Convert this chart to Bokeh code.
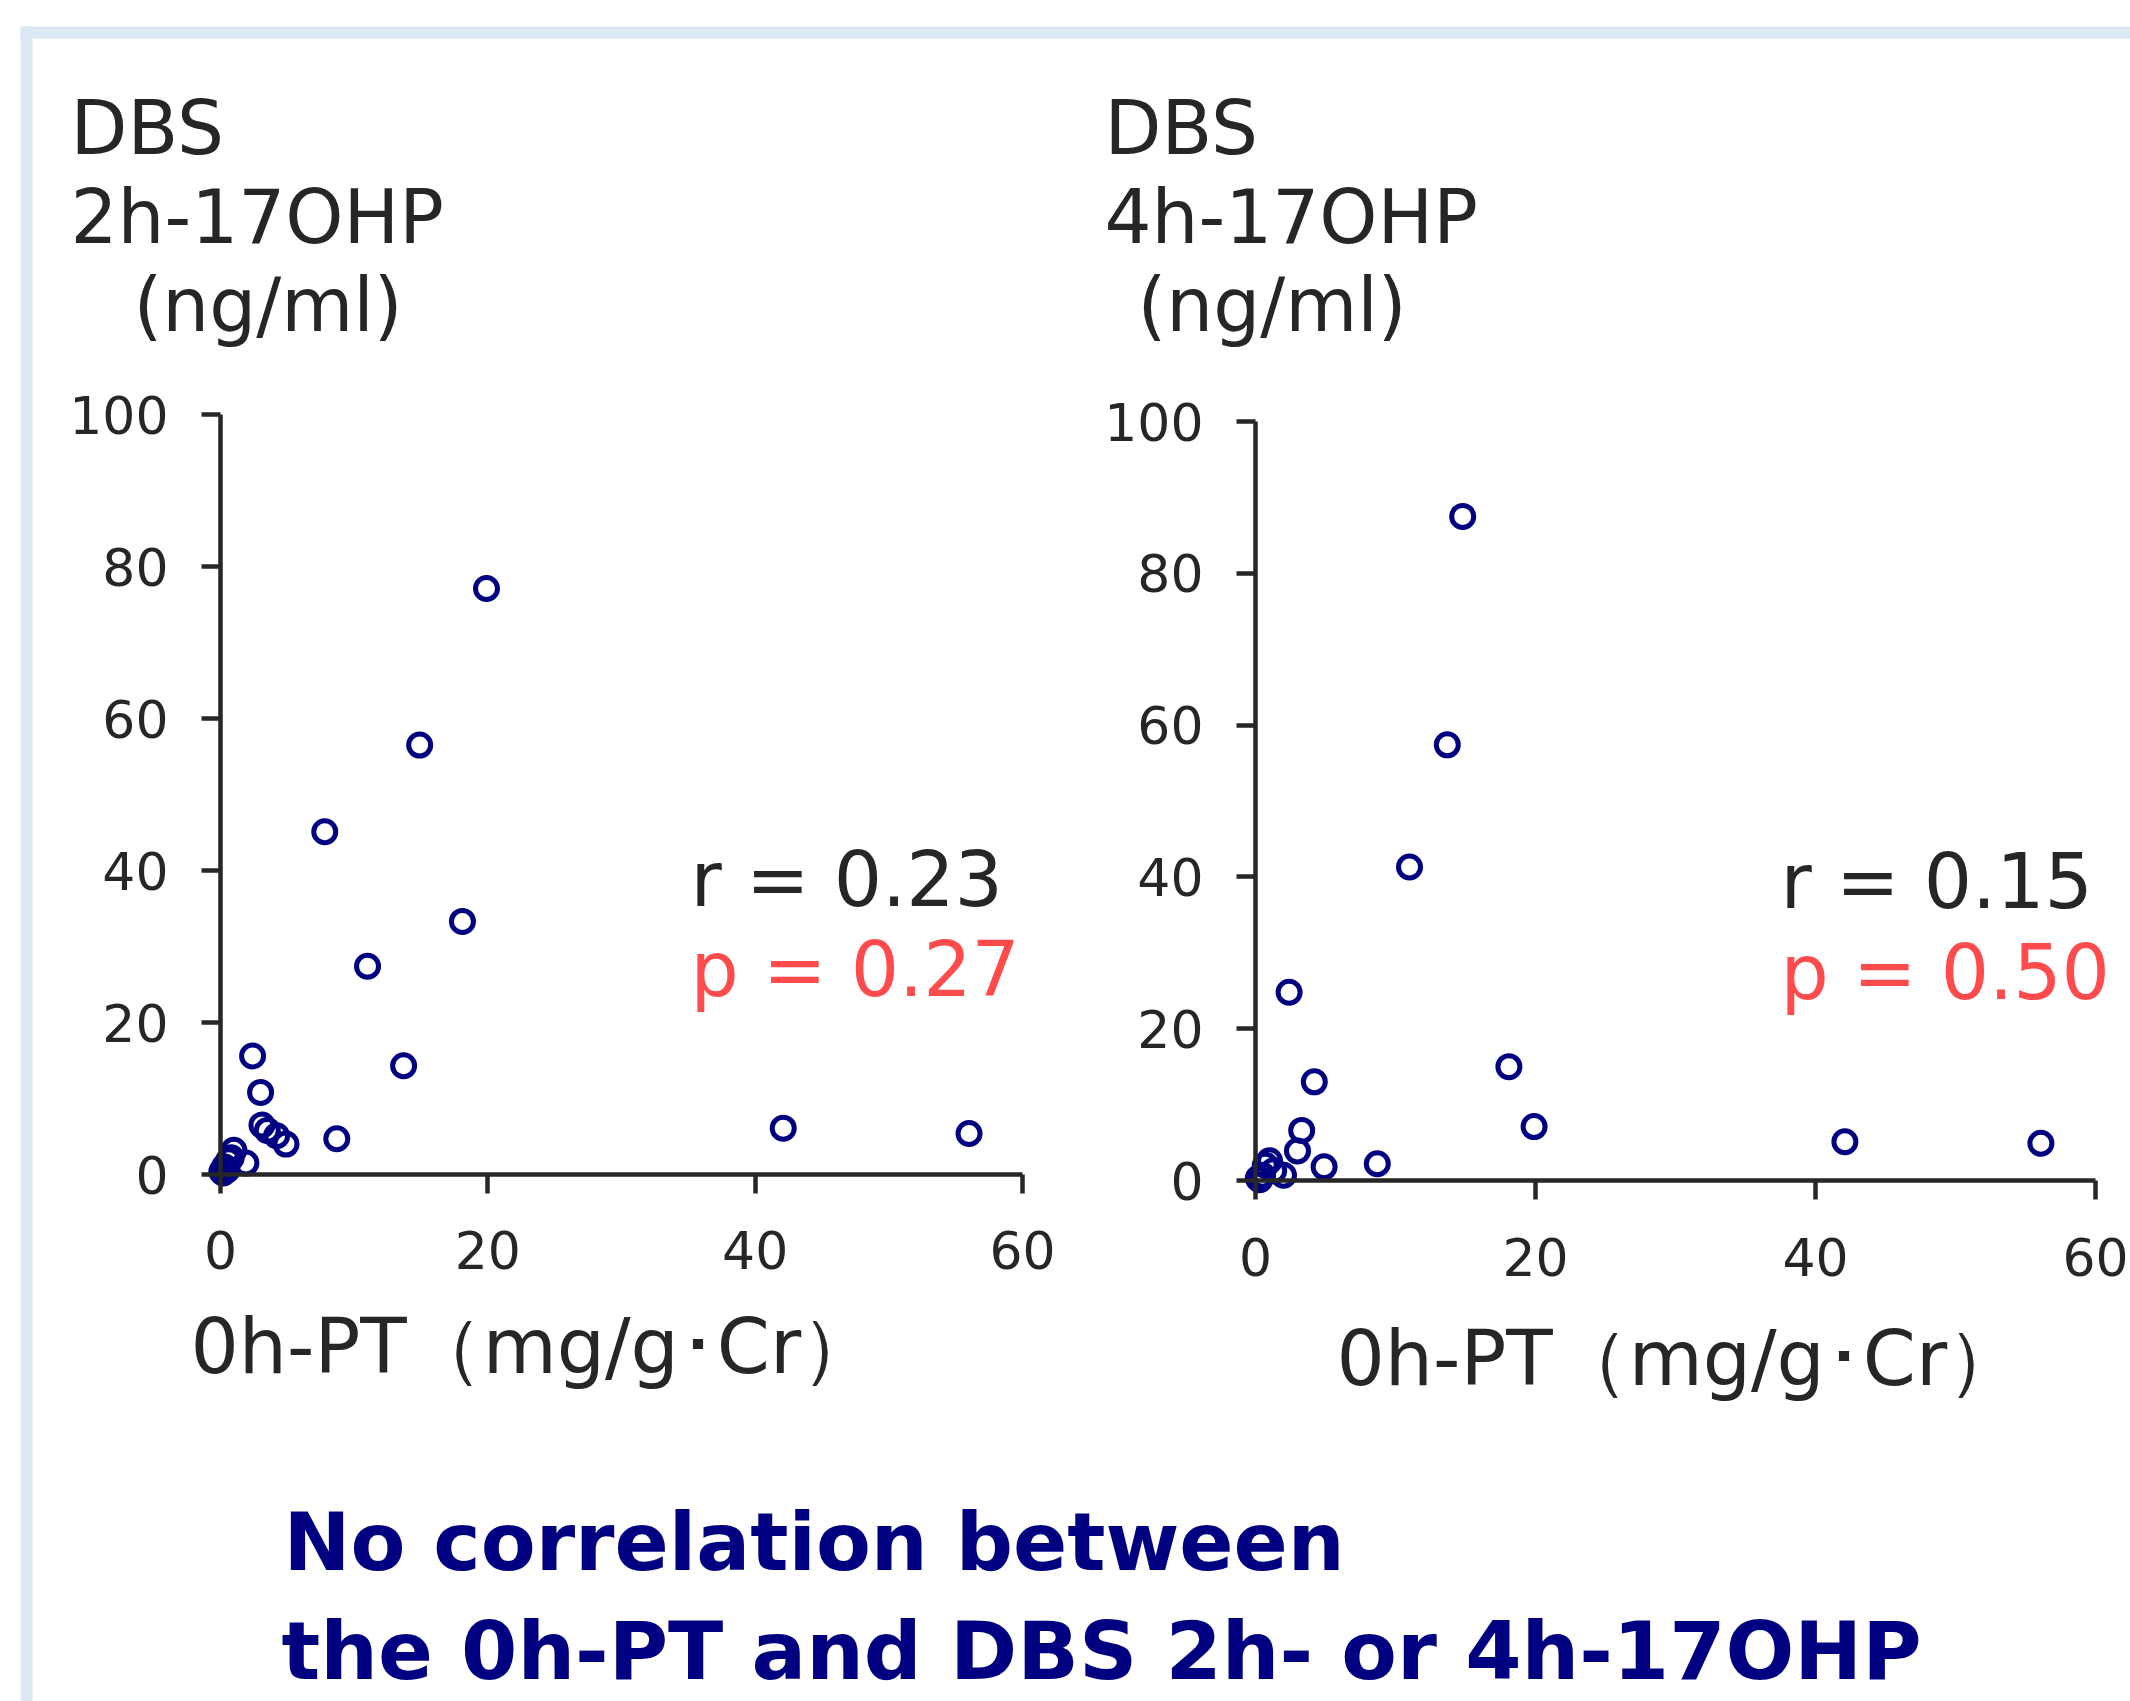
from bokeh.plotting import figure
from bokeh.models import Range1d, LinearAxis, FixedTicker
from bokeh.core.properties import value
from bokeh.embed import file_html
from bokeh.resources import INLINE

# ---------------- data ----------------
# 0h-PT (mg/g·Cr) vs DBS 2h-17OHP (ng/ml)
pt0h_2h = [19.9, 14.9, 7.8, 18.1, 11.0, 13.7, 2.4, 3.0, 3.1, 3.5, 4.2, 4.9,
           8.7, 42.1, 56.0, 1.0, 1.9, 0.6, 0.3, 0.1, 0.5, 0.2, 0.8]
ohp_2h = [77.1, 56.5, 45.1, 33.3, 27.4, 14.3, 15.6, 10.8, 6.5, 5.8, 5.1, 4.0,
          4.7, 6.1, 5.4, 3.2, 1.5, 1.8, 1.0, 0.4, 0.6, 0.2, 2.2]
# 0h-PT (mg/g·Cr) vs DBS 4h-17OHP (ng/ml)
pt0h_4h = [14.8, 13.7, 11.0, 2.4, 18.1, 4.2, 19.9, 3.3, 3.0, 4.9, 8.7, 42.1,
           56.1, 2.0, 1.0, 0.7, 0.5, 0.2, 1.3, 0.3]
ohp_4h = [87.5, 57.4, 41.3, 24.8, 15.0, 13.0, 7.1, 6.6, 3.9, 1.8, 2.2, 5.1,
          4.9, 0.7, 2.6, 2.0, 0.7, 0.3, 1.3, 0.1]

x_ticks = [0, 20, 40, 60]
y_ticks = [0, 20, 40, 60, 80, 100]

title_2h = ["DBS", "2h-17OHP", "(ng/ml)"]
title_4h = ["DBS", "4h-17OHP", "(ng/ml)"]
stats_2h = ["r = 0.23", "p = 0.27"]
stats_4h = ["r = 0.15", "p = 0.50"]
x_label = "0h-PT（mg/g･Cr）"
conclusion = ["No correlation between", "the 0h-PT and DBS 2h- or 4h-17OHP"]

# ---------------- styles / layout (canvas pixels) ----------------
W, H = 2130, 1701
FONT = value("DejaVu Sans")
AX = "#262626"
RED = "#FF4B4B"
NAVY = "#000080"
BORDER = "#DDE8F5"

LEFT = dict(x0=220, x1=1022, y0=1174, y1=414)
RIGHT = dict(x0=1255, x1=2095, y0=1180, y1=421)


def ranges(panel):
    kx = (panel["x1"] - panel["x0"]) / x_ticks[-1]
    ky = (panel["y0"] - panel["y1"]) / y_ticks[-1]
    xr = Range1d(start=(0 - panel["x0"]) / kx, end=(W - panel["x0"]) / kx)
    yr = Range1d(start=(panel["y0"] - H) / ky, end=(panel["y0"] - 0) / ky)
    return xr, yr


lx, ly = ranges(LEFT)
rx, ry = ranges(RIGHT)

p = figure(width=W, height=H, x_range=lx, y_range=ly,
           x_axis_type=None, y_axis_type=None, toolbar_location=None,
           output_backend="svg", min_border=0, title=None)
p.extra_x_ranges = {"rx": rx, "px": Range1d(start=0, end=W)}
p.extra_y_ranges = {"ry": ry, "py": Range1d(start=H, end=0)}
p.outline_line_color = None
p.background_fill_color = "white"
p.border_fill_color = "white"

PX = dict(x_range_name="px", y_range_name="py")

# slide frame (light blue border)
p.quad(left=[20, 20], right=[W + 20, 32], top=[26, 26], bottom=[38, H + 20],
       fill_color=BORDER, line_color=None, **PX)


def add_axes(xname, yname, xstand, ystand):
    kw = dict(x_range_name=xname, y_range_name=yname)
    ya = LinearAxis(fixed_location=0, bounds=(0, y_ticks[-1]),
                    ticker=FixedTicker(ticks=y_ticks), **kw)
    xa = LinearAxis(fixed_location=0, bounds=(0, x_ticks[-1]),
                    ticker=FixedTicker(ticks=x_ticks), **kw)
    for a, st in ((ya, ystand), (xa, xstand)):
        a.axis_line_color = AX
        a.axis_line_width = 4.5
        a.major_tick_line_color = AX
        a.major_tick_line_width = 4.5
        a.major_tick_in = 0
        a.major_tick_out = 19
        a.minor_tick_line_color = None
        a.major_label_text_font = "DejaVu Sans"
        a.major_label_text_font_size = "52px"
        a.major_label_text_color = AX
        a.major_label_standoff = st
    p.add_layout(ya, "left")
    p.add_layout(xa, "below")


add_axes("default", "default", 37, 33)
add_axes("rx", "ry", 38, 33)

p.scatter(pt0h_2h, ohp_2h, marker="circle", size=22, fill_color=None,
          line_color=NAVY, line_width=5)
p.scatter(pt0h_4h, ohp_4h, marker="circle", size=22, fill_color=None,
          line_color=NAVY, line_width=5, x_range_name="rx", y_range_name="ry")


def txt(xs, ys, texts, size, color, style="normal"):
    # ys are wanted baselines; the renderer draws the glyphs ~0.39 em lower
    px = float(size[:-2])
    ys = [y - 0.39 * px for y in ys]
    p.text(x=xs, y=ys, text=texts, text_font=FONT, text_font_size=size,
           text_color=color, text_font_style=style, text_align="left",
           text_baseline="alphabetic", **PX)


# panel titles
txt([70, 70, 133], [156, 245, 333], title_2h, "74px", AX)
txt([1104, 1104, 1137], [156, 245, 333], title_4h, "74px", AX)

# statistics
txt([690], [909], stats_2h[:1], "76px", AX)
txt([690], [999], stats_2h[1:], "76px", RED)
txt([1780], [911], stats_4h[:1], "76px", AX)
txt([1780], [1002], stats_4h[1:], "76px", RED)

# x-axis titles
txt([190], [1376], [x_label], "76px", AX)
txt([1336], [1388], [x_label], "76px", AX)

# conclusion
txt([283], [1573], conclusion[:1], "80px", NAVY, "bold")
txt([281], [1682], conclusion[1:], "81px", NAVY, "bold")

open("out.html", "w").write(file_html(p, INLINE))
